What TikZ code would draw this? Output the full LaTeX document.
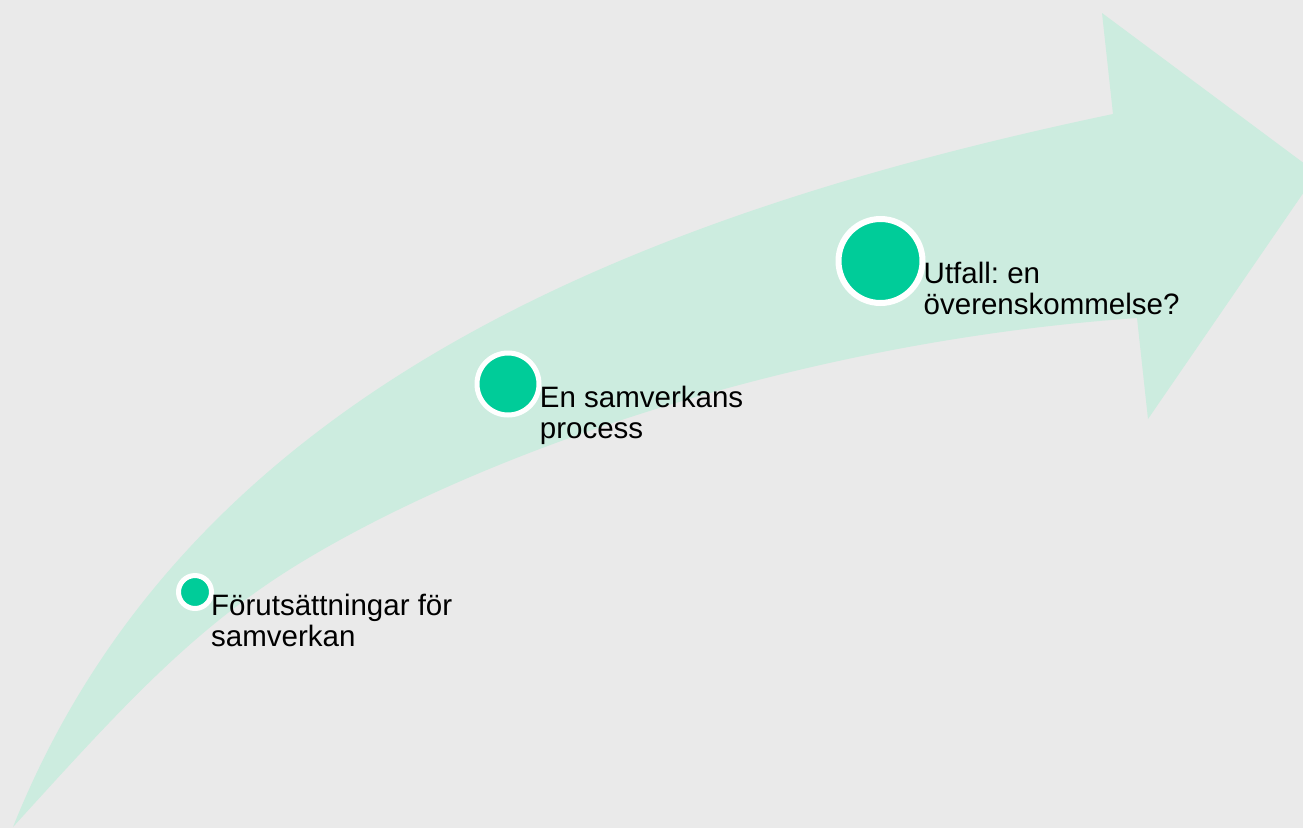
\documentclass[tikz,border=0pt]{standalone}
\usepackage{fontspec}
\setmainfont{Liberation Sans}
\frenchspacing
\definecolor{bgcol}{HTML}{EAEAEA}
\definecolor{arrowcol}{HTML}{CCECDF}
\definecolor{dotcol}{HTML}{00CC99}
\tikzset{
  dot/.style={circle, fill=dotcol, draw=white, inner sep=0pt},
  lbl/.style={anchor=base west, align=left, inner sep=0pt, text=black,
    font=\fontsize{29.5}{30.8}\selectfont}
}
\begin{document}
\begin{tikzpicture}[x=1pt,y=-1pt]
\useasboundingbox (0,0) rectangle (1303,828);
\fill[bgcol] (0,0) rectangle (1303,828);
\fill[arrowcol]
  (13,827) .. controls (183,402) and (613,219) .. (1113,114)
  -- (1102,13) -- (1317,173) -- (1148,419) -- (1137,318)
  .. controls (797,341.8) and (485,452) .. (305,560)
  .. controls (195,626) and (123,706) .. (13,827)
  -- cycle;
\node[dot, minimum size=33pt, line width=5pt] (d1) at (195,592) {};
\node[dot, minimum size=62pt, line width=5pt] (d2) at (508,384) {};
\node[dot, minimum size=84pt, line width=6pt] (d3) at (880.5,261) {};
\node[lbl] (t1) at (211,646) {Förutsättningar för\\samverkan};
\node[lbl] (t2) at (539.7,438.5) {En samverkans\\process};
\node[lbl] (t3) at (923.5,314.6) {Utfall: en\\överenskommelse?};
\end{tikzpicture}
\end{document}
